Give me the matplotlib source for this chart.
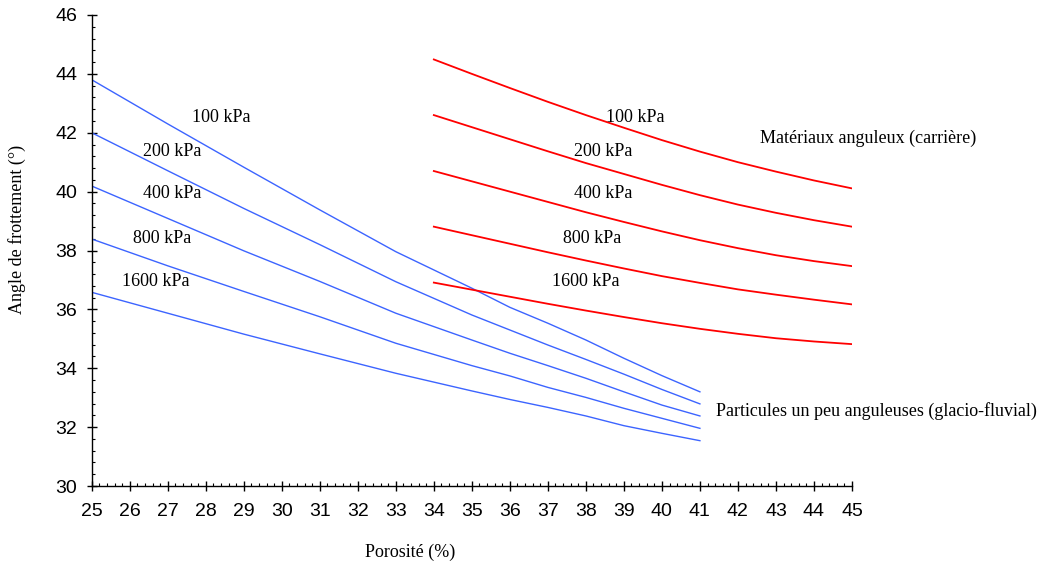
import numpy as np
import matplotlib.pyplot as plt
from matplotlib.ticker import MultipleLocator

# porosité (%) - courbes glacio-fluvial (bleu)
x_glacio = [25, 27, 29, 31, 33, 35, 36, 37, 38, 39, 40, 41]
glacio_100 = [43.8, 42.3, 40.83, 39.38, 37.96, 36.72, 36.07, 35.53, 34.96, 34.34, 33.75, 33.2]
glacio_200 = [42.0, 40.71, 39.43, 38.2, 36.94, 35.81, 35.3, 34.79, 34.3, 33.8, 33.28, 32.79]
glacio_400 = [40.19, 39.09, 37.99, 36.95, 35.87, 34.96, 34.51, 34.09, 33.66, 33.2, 32.75, 32.38]
glacio_800 = [38.39, 37.48, 36.61, 35.75, 34.85, 34.09, 33.74, 33.35, 33.01, 32.64, 32.3, 31.96]
glacio_1600 = [36.58, 35.87, 35.16, 34.49, 33.83, 33.23, 32.94, 32.67, 32.38, 32.05, 31.79, 31.54]

# courbes matériaux anguleux (rouge)
x_carriere = [34, 35, 36, 37, 38, 39, 40, 41, 42, 43, 44, 45]
carriere_100 = [44.49, 44.0, 43.52, 43.05, 42.6, 42.17, 41.75, 41.36, 41.0, 40.68, 40.38, 40.11]
carriere_200 = [42.6, 42.19, 41.78, 41.37, 40.97, 40.6, 40.23, 39.88, 39.56, 39.28, 39.03, 38.81]
carriere_400 = [40.7, 40.35, 40.0, 39.65, 39.3, 38.97, 38.65, 38.35, 38.08, 37.84, 37.64, 37.47]
carriere_800 = [38.81, 38.52, 38.23, 37.94, 37.66, 37.39, 37.13, 36.9, 36.68, 36.5, 36.33, 36.17]
carriere_1600 = [36.91, 36.67, 36.43, 36.19, 35.96, 35.74, 35.53, 35.34, 35.17, 35.02, 34.91, 34.82]

pressions = ['100 kPa', '200 kPa', '400 kPa', '800 kPa', '1600 kPa']
glacio = [glacio_100, glacio_200, glacio_400, glacio_800, glacio_1600]
carriere = [carriere_100, carriere_200, carriere_400, carriere_800, carriere_1600]

# position des étiquettes (x, y)
lab_glacio = [(28.4, 42.53), (27.11, 41.38), (27.11, 39.92), (26.85, 38.42), (26.69, 36.96)]
lab_carriere = [(39.31, 42.53), (38.45, 41.38), (38.45, 39.92), (38.16, 38.42), (38.0, 36.96)]

serif = 'Liberation Serif'

fig = plt.figure(figsize=(10.46, 5.66), dpi=100)
ax = fig.add_axes([0.0877, 0.1413, 0.7268, 0.8322])

for y in glacio:
    ax.plot(x_glacio, y, color='#3c64ff', lw=1.0)
for y in carriere:
    ax.plot(x_carriere, y, color='#ff0000', lw=1.3)

for txt, (lx, ly) in zip(pressions, lab_glacio):
    ax.text(lx, ly, txt, ha='center', va='center', family=serif, fontsize=13)
for txt, (lx, ly) in zip(pressions, lab_carriere):
    ax.text(lx, ly, txt, ha='center', va='center', family=serif, fontsize=13)

ax.text(42.58, 41.82, 'Matériaux anguleux (carrière)', ha='left', va='center',
        family=serif, fontsize=13, clip_on=False)
ax.text(41.42, 32.55, 'Particules un peu anguleuses (glacio-fluvial)', ha='left',
        va='center', family=serif, fontsize=13, clip_on=False)

ax.set_xlim(25, 45)
ax.set_ylim(30, 46)
ax.xaxis.set_major_locator(MultipleLocator(1))
ax.xaxis.set_minor_locator(MultipleLocator(0.2))
ax.yaxis.set_major_locator(MultipleLocator(2))
ax.yaxis.set_minor_locator(MultipleLocator(0.4))

ax.spines['top'].set_visible(False)
ax.spines['right'].set_visible(False)
ax.spines['left'].set_linewidth(1.0)
ax.spines['bottom'].set_linewidth(1.0)
ax.tick_params(which='major', direction='inout', length=7, width=1.0,
               labelsize=14)
ax.tick_params(axis='x', which='major', pad=9)
ax.tick_params(axis='y', which='major', pad=7)
ax.tick_params(which='minor', direction='in', length=2.5, width=0.8)
for lab in ax.get_xticklabels() + ax.get_yticklabels():
    lab.set_family('Liberation Sans')

fig.text(0.392, 0.025, 'Porosité (%)', ha='center', va='center', family=serif, fontsize=13)
fig.text(0.016, 0.595, 'Angle de frottement (°)', ha='center', va='center',
         rotation=90, family=serif, fontsize=13)

fig.savefig('out.png', dpi=100)
